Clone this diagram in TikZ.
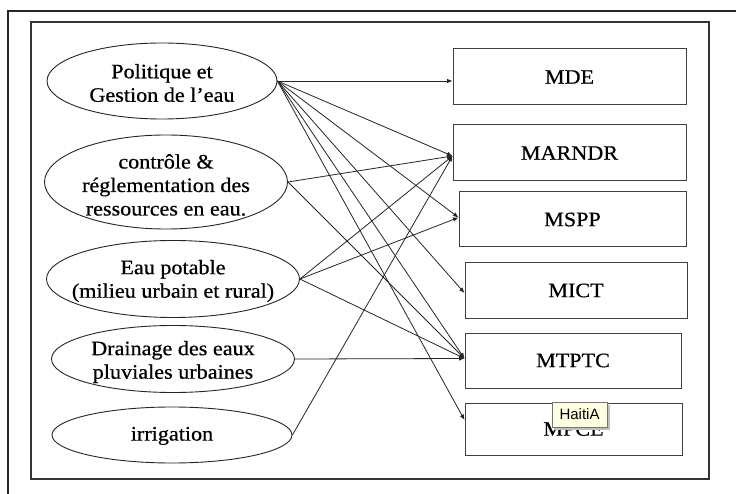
\documentclass[tikz,border=0pt]{standalone}
\usepackage{fontspec}
\setmainfont{Liberation Serif}[FakeStretch=1.08,FakeBold=0.6]
\newfontfamily\tipfont{Liberation Sans}
\usetikzlibrary{shapes.geometric,arrows.meta}
\definecolor{tipfill}{HTML}{FFFFE1}
\definecolor{tipdraw}{HTML}{767676}
\begin{document}
\begin{tikzpicture}[x=1pt,y=-1pt,
  ell/.style={draw=black!85, line width=0.9pt, ellipse, inner sep=0pt},
  txt/.style={align=center, inner sep=0pt, font=\fontsize{20.5}{23.5}\selectfont},
  box/.style={draw=black!75, line width=1pt, rectangle, inner sep=0pt, font=\fontsize{20.5}{23.5}\selectfont},
  conn/.style={draw=black!85, line width=0.8pt, -{Latex[length=5.5pt,width=4.5pt]}},
  tip/.style={draw=tipdraw, fill=tipfill, line width=0.7pt, inner sep=0pt, minimum width=55pt, minimum height=25pt, font=\tipfont\fontsize{15}{17}\selectfont}
]
\useasboundingbox (0,0) rectangle (736,494);
\clip (0,0) rectangle (736,494);
\fill[white] (0,0) rectangle (736,494);
% frames
\draw[line width=1.2pt, black!85] (8,500) -- (8,11) -- (745,11);
\draw[line width=1.5pt, black!80] (31,22) rectangle (709,479);

% ellipses
\node[ell, minimum width=230pt, minimum height=76pt] (e1) at (162,81) {};
\node[txt] (e1t) at (162,83) {Politique et\\Gestion de l’eau};
\node[ell, minimum width=243pt, minimum height=94pt] (e2) at (166,182) {};
\node[txt] (e2t) at (166,185) {contrôle \&\\réglementation des\\ressources en eau.};
\node[ell, minimum width=253pt, minimum height=77pt] (e3) at (173,279) {};
\node[txt] (e3t) at (173,281) {Eau potable\\(milieu urbain et rural)};
\node[ell, minimum width=243pt, minimum height=67pt] (e4) at (173,359) {};
\node[txt] (e4t) at (173,362) {Drainage des eaux\\pluviales urbaines};
\node[ell, minimum width=240pt, minimum height=56pt] (e5) at (172,435) {};
\node[txt] (e5t) at (172,436) {irrigation};

% boxes
\node[box, minimum width=233pt, minimum height=56pt] (mde) at (569.5,77) {MDE};
\node[box, minimum width=233pt, minimum height=56pt] (marndr) at (569.5,153) {MARNDR};
\node[box, minimum width=227pt, minimum height=55pt] (mspp) at (572.5,219.5) {MSPP};
\node[box, minimum width=222pt, minimum height=55pt] (mict) at (576,290.5) {MICT};
\node[box, minimum width=216pt, minimum height=55pt] (mtptc) at (573,360.5) {MTPTC};
\node[box, minimum width=217pt, minimum height=52pt] (mpce) at (573.5,429) {MPCE};

% connectors
\draw[conn] (e1.east) -- ([yshift=-4pt]mde.west);
\draw[conn] (e1.east) -- ([yshift=-3pt]marndr.west);
\draw[conn] (e1.east) -- ([yshift=2pt]mspp.west);
\draw[conn] (e1.east) -- ([yshift=-2.5pt]mict.west);
\draw[conn] (e1.east) -- ([yshift=2pt]mtptc.west);
\draw[conn] (e1.east) -- ([yshift=9pt]mpce.west);
\draw[conn] (e2.east) -- ([yshift=-3pt]marndr.west);
\draw[conn] (e2.east) -- ([yshift=2pt]mtptc.west);
\draw[conn] (e3.east) -- ([yshift=-3pt]marndr.west);
\draw[conn] (e3.east) -- ([yshift=2pt]mspp.west);
\draw[conn] (e3.east) -- ([yshift=2pt]mtptc.west);
\draw[conn] (e4.east) -- ([yshift=2pt]mtptc.west);
\draw[conn] (e5.east) -- ([yshift=-3pt]marndr.west);

% tooltip (with faint shadow)
\fill[black!25] (554,405) rectangle (609.5,429.5);
\node[tip] (tipbox) at (579.5,414.5) {HaitiA};
\end{tikzpicture}
\end{document}
